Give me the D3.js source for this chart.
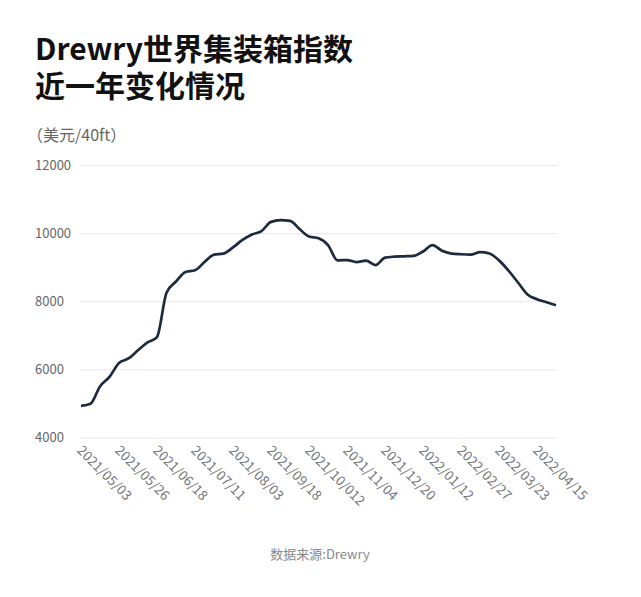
<!DOCTYPE html>
<html>
<head>
<meta charset="utf-8">
<script src="https://cdn.jsdelivr.net/npm/d3@7"></script>
<style>
  body { margin: 0; background: #fff; }
  text { font-family: "Noto Sans CJK SC", "Noto Sans", sans-serif; }
</style>
</head>
<body>
<div id="vis"></div>
<script>
// weekly index values (USD / 40ft)
const values = [
  4930, 4990, 5500, 5780, 6190, 6320, 6560, 6790, 6950, 8250,
  8580, 8860, 8910, 9150, 9370, 9400, 9580, 9800, 9960, 10060,
  10330, 10380, 10360, 10120, 9900, 9850, 9650, 9200, 9210, 9150,
  9190, 9060, 9280, 9310, 9320, 9330, 9460, 9650, 9480, 9400,
  9380, 9370, 9440, 9400, 9200, 8900, 8550, 8200, 8060, 7970,
  7880
];

// one date label for every 4th week
const tickLabels = [
  "2021/05/03", "2021/05/26", "2021/06/18", "2021/07/11", "2021/08/03",
  "2021/09/18", "2021/10/012", "2021/11/04", "2021/12/20", "2022/01/12",
  "2022/02/27", "2022/03/23", "2022/04/15"
];
const tickStep = 4;

const yTicks = [4000, 6000, 8000, 10000, 12000];

const width = 641, height = 597;
const svg = d3.select("#vis").append("svg").attr("width", width).attr("height", height);

svg.append("text").attr("x", 35).attr("y", 60)
   .attr("font-size", 30).attr("font-weight", 700).attr("fill", "#111")
   .text("Drewry世界集装箱指数");
svg.append("text").attr("x", 35).attr("y", 97)
   .attr("font-size", 30).attr("font-weight", 700).attr("fill", "#111")
   .text("近一年变化情况");
svg.append("text").attr("x", 27).attr("y", 141)
   .attr("font-size", 16).attr("fill", "#666")
   .text("（美元/40ft）");

const x = d3.scaleLinear().domain([0, values.length - 1]).range([81, 556]);
const y = d3.scaleLinear().domain([4000, 12000]).range([437.5, 165]);

// gridlines + y labels
const yAxis = svg.append("g")
  .call(d3.axisLeft(y).tickValues(yTicks).tickSize(0).tickFormat(d3.format("d")));
yAxis.select(".domain").remove();
yAxis.selectAll(".tick line").remove();
yAxis.selectAll(".tick text")
  .attr("x", 35).attr("text-anchor", "start")
  .attr("font-size", 13).attr("fill", "#666")
  .style("font-family", '"Noto Sans CJK SC", sans-serif');
yAxis.selectAll(".tick").append("line")
  .attr("x1", 80).attr("x2", 557)
  .attr("stroke", "#e8e8e8").attr("stroke-width", 1);

// x labels, rotated
const xTickValues = tickLabels.map((d, i) => i * tickStep);
const xAxis = svg.append("g").attr("transform", "translate(0,448)")
  .call(d3.axisBottom(x).tickValues(xTickValues).tickSize(0)
    .tickFormat((d, i) => tickLabels[i]));
xAxis.select(".domain").remove();
xAxis.selectAll(".tick text")
  .attr("text-anchor", "start")
  .attr("transform", "translate(-2,0) rotate(45)")
  .attr("x", 0).attr("y", 0).attr("dy", "0.35em")
  .attr("font-size", 13.5).attr("fill", "#777")
  .style("font-family", '"Noto Sans CJK SC", sans-serif');

const line = d3.line()
  .x((d, i) => x(i))
  .y(d => y(d))
  .curve(d3.curveMonotoneX);

svg.append("path")
   .datum(values)
   .attr("d", line)
   .attr("fill", "none")
   .attr("stroke", "#1d2b3e")
   .attr("stroke-width", 2.7)
   .attr("stroke-linejoin", "round");

svg.append("text").attr("x", 320).attr("y", 559)
   .attr("text-anchor", "middle")
   .attr("font-size", 13).attr("fill", "#888")
   .text("数据来源:Drewry");
</script>
</body>
</html>
